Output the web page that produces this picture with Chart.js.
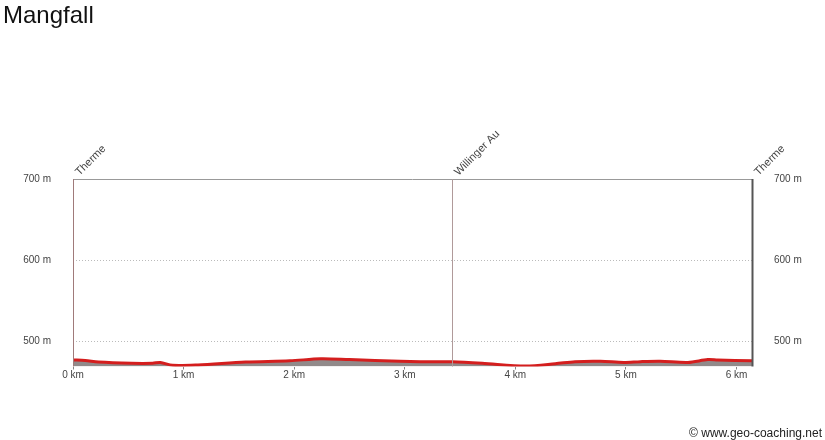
<!DOCTYPE html>
<html>
<head>
<meta charset="utf-8">
<script src="https://cdn.jsdelivr.net/npm/chart.js@4"></script>
<style>
  html, body { margin: 0; padding: 0; background: #fff; }
  #wrap { width: 825px; height: 440px; position: relative; }
</style>
</head>
<body>
<div id="wrap"><canvas id="profile" width="825" height="440"></canvas></div>
<script>
const distKm = [0, 0.11, 0.23, 0.53, 0.72, 0.79, 0.9, 1.13, 1.56, 1.96, 2.24, 2.5, 2.96, 3.14, 3.43, 3.7, 4.09, 4.36, 4.54, 4.77, 4.98, 5.13, 5.31, 5.56, 5.74, 5.83, 6.14];
const elevation = [477, 476.5, 474.5, 473, 473, 474, 470.5, 471, 474.5, 476, 478.5, 477.5, 475.5, 475, 474.8, 473, 469.5, 472.3, 475, 475.5, 474, 475, 475.5, 474, 477.5, 477, 476];
const waypointNames = ["Therme", "Willinger Au", "Therme"];
const waypointKm = [0, 3.43, 6.14];
const elevTicks = [500, 600, 700];

const font = "'Liberation Sans', Arial, sans-serif";

const extras = {
  id: "extras",
  afterDraw(chart) {
    const { ctx, chartArea, scales } = chart;
    ctx.save();
    // title
    ctx.fillStyle = "#111";
    ctx.font = "24px " + font;
    ctx.textBaseline = "alphabetic";
    ctx.fillText("Mangfall", 3, 23);
    // solid top line at the highest tick
    const yTop = Math.round(scales.y.getPixelForValue(700)) + 0.5;
    ctx.strokeStyle = "#999";
    ctx.lineWidth = 1;
    ctx.beginPath();
    ctx.moveTo(chartArea.left, yTop);
    ctx.lineTo(chartArea.right, yTop);
    ctx.stroke();
    // waypoints
    waypointKm.forEach((km, i) => {
      const x = Math.round(scales.x.getPixelForValue(km)) + 0.5;
      ctx.strokeStyle = i === 0 ? "#a07a7a" : (i === waypointKm.length - 1 ? "#555" : "#b09a9a");
      ctx.lineWidth = i === waypointKm.length - 1 ? 2 : 1;
      ctx.beginPath();
      ctx.moveTo(x, chartArea.top);
      ctx.lineTo(x, chartArea.bottom);
      ctx.stroke();
      ctx.save();
      ctx.translate(x + 6, chartArea.top - 3);
      ctx.rotate(-Math.PI / 4);
      ctx.fillStyle = "#444";
      ctx.font = "11px " + font;
      ctx.textBaseline = "alphabetic";
      ctx.fillText(waypointNames[i], 0, 0);
      ctx.restore();
    });
    // copyright
    ctx.fillStyle = "#222";
    ctx.font = "12px " + font;
    ctx.textAlign = "right";
    ctx.fillText("\u00a9 www.geo-coaching.net", 822, 437);
    ctx.restore();
  }
};

const yAxis = (pos) => ({
  position: pos,
  min: 469,
  max: 700,
  afterBuildTicks: (s) => { s.ticks = elevTicks.map(v => ({ value: v })); },
  afterFit: (s) => { s.width = 73; },
  ticks: {
    color: "#444",
    font: { family: font, size: 10 },
    padding: 22,
    callback: (v) => v + " m"
  },
  grid: {
    display: pos === "left",
    drawTicks: false,
    color: (c) => c.tick && c.tick.value === 700 ? "rgba(0,0,0,0)" : "#bbb",
    lineWidth: 1
  },
  border: { display: false, dash: [1, 2] }
});

new Chart(document.getElementById("profile"), {
  type: "line",
  data: {
    datasets: [{
      data: distKm.map((d, i) => ({ x: d, y: elevation[i] })),
      borderColor: "rgb(212, 30, 30)",
      borderWidth: 3,
      backgroundColor: "rgb(145, 138, 138)",
      fill: "start",
      pointRadius: 0,
      tension: 0.3
    }]
  },
  plugins: [extras],
  options: {
    responsive: false,
    animation: false,
    devicePixelRatio: 1,
    layout: { padding: { top: 179, left: 0, right: 0, bottom: 0 } },
    plugins: { legend: { display: false }, tooltip: { enabled: false } },
    scales: {
      x: {
        type: "linear",
        min: 0,
        max: 6.14,
        afterBuildTicks: (s) => { s.ticks = [0, 1, 2, 3, 4, 5, 6].map(v => ({ value: v })); },
        afterFit: (s) => { s.height = 73.5; },
        ticks: {
          color: "#444",
          font: { family: font, size: 10 },
          padding: 0,
          maxRotation: 0,
          callback: (v) => v + " km"
        },
        grid: { drawOnChartArea: false, drawTicks: true, tickLength: 3, color: "#888" },
        border: { display: false }
      },
      y: yAxis("left"),
      y2: yAxis("right")
    }
  }
});
</script>
</body>
</html>
